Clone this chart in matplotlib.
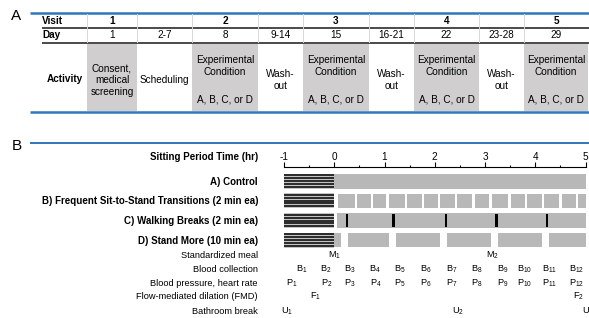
import matplotlib
matplotlib.use("Agg")
import matplotlib.pyplot as plt
from matplotlib.patches import Rectangle
from matplotlib.ticker import MultipleLocator

plt.rcParams["font.family"] = ["Liberation Sans", "DejaVu Sans"]
plt.rcParams["axes.unicode_minus"] = False

WIDTH, HEIGHT, DPI = 589, 318, 100
FS = 6.7
FS_TABLE = 7.2
FS_BOLD = 7.0
BLUE = "#2f78bd"
DARK = "#3c3c3c"
SHADE = "#d0cece"
BAR_GRAY = "#b8b8b8"

# ---- panel A: study timeline table ----
VISITS = ["1", "", "2", "", "3", "", "4", "", "5"]
DAYS = ["1", "2-7", "8", "9-14", "15", "16-21", "22", "23-28", "29"]
ACTIVITIES = [
    "Consent,\nmedical\nscreening", "Scheduling",
    "Experimental\nCondition", "Wash-\nout",
    "Experimental\nCondition", "Wash-\nout",
    "Experimental\nCondition", "Wash-\nout",
    "Experimental\nCondition",
]
CONDITION_NOTE = "A, B, C, or D"
SHADED = [True, False, True, False, True, False, True, False, True]

# ---- panel B: sitting period protocol ----
CONDITIONS = [
    "A) Control",
    "B) Frequent Sit-to-Stand Transitions (2 min ea)",
    "C) Walking Breaks (2 min ea)",
    "D) Stand More (10 min ea)",
]
HOURS = [-1, 0, 1, 2, 3, 4, 5]
STS_BREAKS = [0.44, 0.75, 1.06, 1.43, 1.76, 2.09, 2.43, 2.77,
              3.11, 3.49, 3.82, 4.16, 4.50, 4.83]
WALK_BREAKS = [0.25, 1.18, 2.22, 3.23, 4.23]
STAND_STARTS = [0.13, 1.09, 2.10, 3.12, 4.13]
STAND_LEN = 0.14

MEASURES = ["Standardized meal", "Blood collection", "Blood pressure, heart rate",
            "Flow-mediated dilation (FMD)", "Bathroom break"]
MEAL_TIMES = [0.0, 3.15]
BLOOD_TIMES = [-0.64, -0.16, 0.31, 0.81, 1.31, 1.83, 2.33, 2.84, 3.35, 3.79, 4.29, 4.82]
BP_TIMES = [-0.84, -0.14, 0.31, 0.82, 1.31, 1.83, 2.33, 2.84, 3.35, 3.79, 4.29, 4.82]
FMD_TIMES = [-0.38, 4.86]
BATHROOM_TIMES = [-0.94, 2.46, 5.06]
MARK_LETTERS = ["M", "B", "P", "F", "U"]

# layout (pixels)
COL_EDGES = [87, 137, 192, 258, 303, 369, 414, 479, 524, 588]
ROW_Y = [181, 200.5, 220.5, 240]
BAR_H = 15
MEASURE_Y = [255, 269, 283, 296.5, 311]
X_LEFT, X_RIGHT = 284, 585.5  # pixel span of hours -1..5


def draw_table(ax):
    ax.plot([30, WIDTH], [13, 13], color=BLUE, lw=1.8, solid_capstyle="butt")
    ax.plot([30, WIDTH], [112, 112], color=BLUE, lw=1.8, solid_capstyle="butt")
    for y in (28, 42.5):
        ax.plot([42, WIDTH], [y, y], color=DARK, lw=1.3, solid_capstyle="butt")

    for i, shaded in enumerate(SHADED):
        x0, x1 = COL_EDGES[i], COL_EDGES[i + 1]
        xc = (x0 + x1) / 2
        if shaded:
            ax.add_patch(Rectangle((x0, 43.5), x1 - x0, 67.5, color=SHADE, lw=0))
        ax.plot([x0, x0], [14, 42], color="#d8d8d8", lw=0.7)
        ax.text(xc, 21, VISITS[i], ha="center", va="center", fontsize=FS_TABLE,
                fontweight="bold")
        ax.text(xc, 35.5, DAYS[i], ha="center", va="center", fontsize=FS_TABLE)
        if ACTIVITIES[i].startswith("Experimental"):
            ax.text(xc, 66, ACTIVITIES[i], ha="center", va="center", fontsize=FS_TABLE,
                    linespacing=1.2)
            ax.text(xc, 100, CONDITION_NOTE, ha="center", va="center", fontsize=FS_TABLE)
        else:
            ax.text(xc, 80, ACTIVITIES[i], ha="center", va="center", fontsize=FS_TABLE,
                    linespacing=1.2)

    ax.text(42, 21, "Visit", ha="left", va="center", fontsize=FS_TABLE, fontweight="bold")
    ax.text(42, 35.5, "Day", ha="left", va="center", fontsize=FS_TABLE, fontweight="bold")
    ax.text(83, 79, "Activity", ha="right", va="center", fontsize=FS_TABLE,
            fontweight="bold")
    ax.text(11, 16, "A", ha="left", va="center", fontsize=11)


def draw_protocol(fig, ax):
    ax.plot([30, WIDTH], [143, 143], color=BLUE, lw=1.4, solid_capstyle="butt")
    ax.text(12, 145.5, "B", ha="left", va="center", fontsize=11)
    ax.text(258, 156.5, "Sitting Period Time (hr)", ha="right", va="center",
            fontsize=FS_BOLD, fontweight="bold")
    for y, name in zip(ROW_Y, CONDITIONS):
        ax.text(258, y + 1, name, ha="right", va="center", fontsize=FS_BOLD,
                fontweight="bold")
    for y, name in zip(MEASURE_Y, MEASURES):
        ax.text(258, y, name, ha="right", va="center", fontsize=FS)

    left, width = X_LEFT / WIDTH, (X_RIGHT - X_LEFT) / WIDTH

    # time axis
    ax_t = fig.add_axes([left, (HEIGHT - 167) / HEIGHT, width, 3 / HEIGHT])
    ax_t.set_xlim(HOURS[0], HOURS[-1])
    ax_t.set_xticks(HOURS)
    ax_t.set_xticklabels([str(h) for h in HOURS])
    ax_t.xaxis.set_minor_locator(MultipleLocator(0.5))
    ax_t.set_yticks([])
    ax_t.patch.set_visible(False)
    for side in ("left", "right", "top"):
        ax_t.spines[side].set_visible(False)
    ax_t.spines["bottom"].set_linewidth(0.8)
    ax_t.tick_params(axis="x", which="both", direction="in", bottom=True, top=False,
                     labelbottom=False, labeltop=True, width=0.8, labelsize=FS_TABLE,
                     pad=1.5)
    ax_t.tick_params(axis="x", which="major", length=3.6)
    ax_t.tick_params(axis="x", which="minor", length=1.8)

    # condition bars
    ax_b = fig.add_axes([left, 0, width, (HEIGHT - 143) / HEIGHT])
    ax_b.set_xlim(HOURS[0], HOURS[-1])
    ax_b.set_ylim(HEIGHT, 143)
    ax_b.axis("off")

    for y in ROW_Y:
        y0 = y - BAR_H / 2
        ax_b.broken_barh([(HOURS[0], 1)], (y0, BAR_H), facecolor="#c4c4c4", lw=0)
        for k in (-2, -1, 0, 1, 2):
            ax_b.plot([HOURS[0], 0], [y + 2.8 * k, y + 2.8 * k], color="black", lw=1.1,
                      solid_capstyle="butt")

    # A) control
    ax_b.broken_barh([(0, 5)], (ROW_Y[0] - BAR_H / 2, BAR_H), facecolor=BAR_GRAY, lw=0)

    # B) sit-to-stand: segments between transitions
    gap = 0.045
    edges = [0.08] + STS_BREAKS + [5]
    segs = []
    for i in range(len(edges) - 1):
        s = edges[i] + (gap / 2 if i > 0 else 0)
        e = edges[i + 1] - (gap / 2 if i + 1 < len(edges) - 1 else 0)
        segs.append((s, e - s))
    ax_b.broken_barh(segs, (ROW_Y[1] - 7, 14), facecolor=BAR_GRAY, lw=0)

    # C) walking breaks
    ax_b.broken_barh([(0.05, 4.95)], (ROW_Y[2] - BAR_H / 2, BAR_H), facecolor=BAR_GRAY, lw=0)
    ax_b.broken_barh([(t - 0.025, 0.05) for t in WALK_BREAKS],
                     (ROW_Y[2] - 6.5, 13), facecolor="black", lw=0)

    # D) stand more
    segs = [(0, STAND_STARTS[0])]
    for i, s in enumerate(STAND_STARTS):
        end = STAND_STARTS[i + 1] if i + 1 < len(STAND_STARTS) else 5
        segs.append((s + STAND_LEN, end - s - STAND_LEN))
    ax_b.broken_barh(segs, (ROW_Y[3] - 7, 14), facecolor=BAR_GRAY, lw=0)

    # measurement markers
    series = [MEAL_TIMES, BLOOD_TIMES, BP_TIMES, FMD_TIMES, BATHROOM_TIMES]
    for letter, times, y in zip(MARK_LETTERS, series, MEASURE_Y):
        for n, t in enumerate(times, start=1):
            ax_b.text(t, y, r"$\mathregular{%s_{%d}}$" % (letter, n), ha="center",
                      va="center", fontsize=FS, clip_on=False)


def main():
    fig = plt.figure(figsize=(WIDTH / DPI, HEIGHT / DPI), dpi=DPI)
    ax = fig.add_axes([0, 0, 1, 1])
    ax.set_xlim(0, WIDTH)
    ax.set_ylim(HEIGHT, 0)
    ax.axis("off")

    draw_table(ax)
    draw_protocol(fig, ax)

    fig.savefig("out.png", dpi=DPI)
    plt.close(fig)


if __name__ == "__main__":
    main()
